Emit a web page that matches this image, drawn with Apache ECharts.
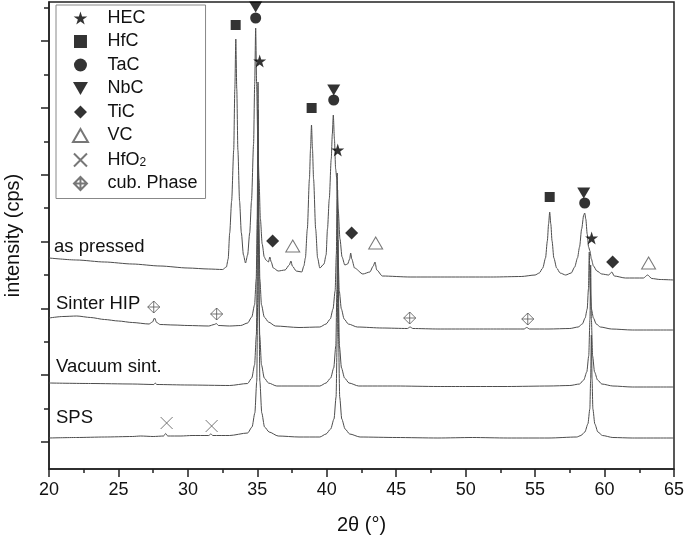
<!DOCTYPE html>
<html>
<head>
<meta charset="utf-8">
<script src="https://cdn.jsdelivr.net/npm/echarts@6/dist/echarts.min.js"></script>
<style>html,body{margin:0;padding:0;background:#fff}#c{width:685px;height:542px}</style>
</head>
<body>
<div id="c"></div>
<script>
// ---- data (2θ in degrees, intensity in arbitrary stacked units) ----
const asPressed = [
[20,211],[22,209],[24,207],[26,205],[28,203],[30,201],[31.5,200],[32.5,199.5],[32.77,202],[32.9,210],[33.01,236],[33.15,268],[33.3,319],[33.38,380],[33.45,430],[33.52,380],[33.6,319],[33.72,268],[33.85,236],[34.0,214],[34.15,206],[34.3,214],[34.45,236],[34.58,268],[34.73,325],[34.81,385],[34.88,441],[34.95,385],[35.03,330],[35.12,290],[35.22,250],[35.35,225],[35.5,212],[35.62,209],[35.8,207],[35.9,212],[36.0,207],[36.15,201],[36.5,198],[37.0,199],[37.3,204],[37.42,208],[37.52,203],[37.8,198],[38.2,197],[38.35,203],[38.46,211],[38.6,240],[38.75,290],[38.83,320],[38.9,344],[38.97,320],[39.05,290],[39.2,240],[39.34,211],[39.5,201],[39.8,205],[39.95,214],[40.05,240],[40.18,270],[40.32,310],[40.4,335],[40.47,354],[40.55,330],[40.64,300],[40.72,290],[40.82,260],[40.95,230],[41.1,212],[41.3,204],[41.5,205],[41.65,210],[41.72,216],[41.8,210],[42.0,201],[42.6,195],[43.1,197],[43.35,203],[43.47,207],[43.6,199],[44.0,193],[46,192],[48,192],[50,192],[52,192],[54,192.5],[55.0,194],[55.3,196],[55.55,201],[55.75,211],[55.88,228],[55.97,245],[56.05,257],[56.13,245],[56.22,228],[56.35,211],[56.55,201],[56.8,196],[57.2,194],[57.6,196],[57.85,202],[58.05,211],[58.2,222],[58.35,240],[58.5,254],[58.57,256],[58.65,250],[58.75,235],[58.85,222],[58.95,218],[59.05,210],[59.2,203],[59.45,198],[59.8,195],[60.3,194],[60.52,197],[60.7,193],[61.5,191],[62.8,191],[63.1,194],[63.4,190.5],[64,189.5],[65,189]
];
const sinterHIP = [
[20,151],[21,152.5],[22,153],[23,151.5],[24,149.5],[25,148],[26,146.5],[27.2,145],[27.45,147],[27.6,151],[27.75,146.5],[28,144.5],[29,144],[30,143.5],[31.5,143],[31.9,144.5],[32.05,145.5],[32.2,143.5],[33,143],[33.8,143.5],[34.3,146],[34.6,152],[34.8,164],[34.92,190],[34.99,250],[35.05,387],[35.11,250],[35.18,190],[35.3,164],[35.5,152],[35.8,147],[36.3,143],[38,141.5],[39.5,142],[39.95,145],[40.25,150],[40.45,160],[40.6,178],[40.69,215],[40.75,296],[40.81,215],[40.9,178],[41.05,160],[41.25,150],[41.55,145],[42.2,142],[44,141],[45.8,140.5],[46.0,142],[46.2,140.5],[48,140],[50,140],[52,140],[54.2,140],[54.4,141.5],[54.6,140],[56,140],[57.5,140.5],[58.1,142],[58.4,145],[58.6,151],[58.75,160],[58.84,180],[58.9,217],[58.96,180],[59.05,160],[59.2,151],[59.4,145],[59.7,142],[60.5,140],[62,139],[65,139]
];
const vacuumSint = [
[20,86],[23,85.5],[26,85],[27.55,84.5],[27.65,86],[27.75,84.5],[30,84],[33,83.5],[34.3,85.5],[34.6,91],[34.8,104],[34.93,134],[35.0,210],[35.05,359],[35.1,210],[35.17,134],[35.3,104],[35.5,91],[35.8,86],[36.4,83],[38,83],[39.5,83],[39.95,86],[40.28,91],[40.5,101],[40.65,123],[40.73,180],[40.78,279],[40.83,180],[40.91,123],[41.06,101],[41.28,91],[41.6,86],[42.3,83],[45,83],[48,82.5],[50,82.5],[53,82.5],[56,83],[57.5,83.5],[58.2,85],[58.5,89],[58.72,97],[58.86,113],[58.95,150],[59.0,204],[59.05,150],[59.14,113],[59.28,97],[59.5,89],[59.8,85],[60.6,83],[62,82],[65,82]
];
const sps = [
[20,31],[22,31.5],[24,32],[26,32.5],[26.6,33],[27.5,32.5],[28.25,33],[28.4,35.5],[28.55,33],[29.5,33],[30.3,33.5],[31.5,33.5],[31.65,35],[31.8,33.5],[33,33.5],[34.3,36],[34.62,42],[34.82,56],[34.96,88],[35.02,165],[35.07,309],[35.12,165],[35.18,88],[35.32,56],[35.52,42],[35.85,37],[36.5,33],[38,32],[39.5,32],[39.95,35],[40.28,40],[40.52,50],[40.67,72],[40.75,130],[40.8,229],[40.85,130],[40.93,72],[41.08,50],[41.32,40],[41.65,35],[42.4,32],[45,31.5],[48,31],[50.5,31.5],[53,31],[56,31],[58,32],[58.3,33.5],[58.58,37],[58.8,45],[58.94,60],[59.0,90],[59.05,134],[59.1,90],[59.16,60],[59.3,45],[59.52,37],[59.85,33.5],[60.6,31.5],[62,31],[65,31]
];
// phase markers [2θ, intensity]
const hecMarks = [[35.17,408],[40.79,319],[59.07,231]];
const hfcMarks = [[33.44,444],[38.91,361],[56.05,272]];
const tacMarks = [[34.88,451],[40.5,369],[58.57,266]];
const nbcMarks = [[34.88,462],[40.5,379],[58.5,276]];
const ticMarks = [[36.1,228],[41.79,236],[60.58,207]];
const vcMarks = [[37.55,223],[43.52,226],[63.17,206]];
const hfo2Marks = [[28.47,46],[31.71,43]];
const cubMarks = [[27.54,162],[32.07,155],[45.97,151],[54.47,150]];
const xTicks = [20,25,30,35,40,45,50,55,60,65];
const yMajorTicks = [27,93.8,160.6,227.4,294.2,361,427.8];
const yMinorTicks = [60.4,127.2,194,260.8,327.6,394.4,461.2];
const traceNames = ['as pressed','Sinter HIP','Vacuum sint.','SPS'];
const phaseNames = ['HEC','HfC','TaC','NbC','TiC','VC','HfO2','cub. Phase'];

const FONT = 'Liberation Sans, Arial, sans-serif';
const LINE = '#4d4d4d';
const starPath = 'path://M50,0L61.2,34.5L97.6,34.5L68.2,55.9L79.4,90.5L50,69.1L20.6,90.5L31.8,55.9L2.4,34.5L38.8,34.5Z';
const squarePath = 'path://M0,0L100,0L100,100L0,100Z';
const diamondPath = 'path://M50,0L100,50L50,100L0,50Z';
const downTri = 'path://M0,0L100,0L50,87Z';
const upTri = 'path://M50,0L100,87L0,87Z';
const xPath = 'path://M0,0L100,100M100,0L0,100';
const cubPath = 'path://M50,0L100,50L50,100L0,50ZM50,0L50,100M0,50L100,50';

function lineSeries(name, data) {
  return {type:'line', name:name, data:data, showSymbol:false, symbol:'none',
    lineStyle:{color:LINE, width:1}, smooth:0.25, smoothMonotone:'x', z:2, silent:true};
}
function markSeries(name, data, symbol, size, style) {
  return {type:'scatter', name:name, data:data, symbol:symbol, symbolSize:size,
    itemStyle:style, clip:false, z:5, silent:true};
}
const filled = {color:'#000'};
const outline = {color:'rgba(0,0,0,0)', borderColor:'#555', borderWidth:1};

const chart = echarts.init(document.getElementById('c'), null, {renderer:'canvas'});
chart.setOption({
  animation:false,
  backgroundColor:'#fff',
  grid:{left:49, right:11, top:2, bottom:73, containLabel:false, outerBoundsMode:'none',
    show:true, borderColor:'#222', borderWidth:1.5, backgroundColor:'transparent'},
  xAxis:{type:'value', min:20, max:65, interval:5,
    name:'2θ (°)', nameLocation:'middle', nameGap:46,
    nameTextStyle:{fontFamily:FONT, fontSize:20, color:'#111'},
    axisLine:{lineStyle:{color:'#222', width:1.5}},
    axisTick:{show:true, inside:false, length:8, lineStyle:{color:'#222', width:1.5}},
    minorTick:{show:true, splitNumber:2, length:4, lineStyle:{color:'#222', width:1.5}},
    axisLabel:{fontFamily:FONT, fontSize:18, color:'#111', margin:12, customValues:xTicks},
    splitLine:{show:false}},
  yAxis:[
    {type:'value', min:0, max:467,
     name:'intensity (cps)', nameLocation:'middle', nameGap:26, nameRotate:90,
     nameTextStyle:{fontFamily:FONT, fontSize:20, color:'#111'},
     axisLine:{show:true, lineStyle:{color:'#222', width:1.5}},
     axisTick:{show:true, inside:false, length:8, customValues:yMajorTicks, lineStyle:{color:'#222', width:1.5}},
     axisLabel:{show:false}, splitLine:{show:false}},
    {type:'value', min:0, max:467, position:'left',
     axisLine:{show:false},
     axisTick:{show:true, inside:false, length:5, customValues:yMinorTicks, lineStyle:{color:'#222', width:1.5}},
     axisLabel:{show:false}, splitLine:{show:false}}
  ],
  legend:{show:true, orient:'vertical', left:56, top:5,
    data:phaseNames,
    itemWidth:44, itemHeight:13, itemGap:5.5,
    padding:[4,8,6,16],
    borderColor:'#888', borderWidth:1, backgroundColor:'#fff',
    selectedMode:false,
    textStyle:{fontFamily:FONT, fontSize:18, lineHeight:18, color:'#111',
      rich:{n:{fontFamily:FONT, fontSize:18, lineHeight:18, color:'#111'}, s:{fontFamily:FONT, fontSize:12, lineHeight:18, color:'#111', verticalAlign:'bottom', padding:[7,0,0,0]}}},
    formatter:function(n){ return n==='HfO2' ? '{n|HfO}{s|2}' : n; }
  },
  graphic:[
    {type:'text', left:54, top:237, style:{text:traceNames[0], font:'18.5px '+FONT, fill:'#111'}},
    {type:'text', left:56, top:294, style:{text:traceNames[1], font:'18.5px '+FONT, fill:'#111'}},
    {type:'text', left:56, top:357, style:{text:traceNames[2], font:'18.5px '+FONT, fill:'#111'}},
    {type:'text', left:56, top:408, style:{text:traceNames[3], font:'18.5px '+FONT, fill:'#111'}}
  ],
  series:[
    lineSeries(traceNames[0], asPressed),
    lineSeries(traceNames[1], sinterHIP),
    lineSeries(traceNames[2], vacuumSint),
    lineSeries(traceNames[3], sps),
    markSeries('HEC', hecMarks, starPath, 13, filled),
    markSeries('HfC', hfcMarks, squarePath, 10, filled),
    markSeries('TaC', tacMarks, 'circle', 11, filled),
    markSeries('NbC', nbcMarks, downTri, [13,11], filled),
    markSeries('TiC', ticMarks, diamondPath, [13,13], filled),
    markSeries('VC', vcMarks, upTri, [14,12], {color:'#fff', borderColor:'#555', borderWidth:1}),
    markSeries('HfO2', hfo2Marks, xPath, 12, outline),
    markSeries('cub. Phase', cubMarks, cubPath, 12, outline)
  ]
});
</script>
</body>
</html>
